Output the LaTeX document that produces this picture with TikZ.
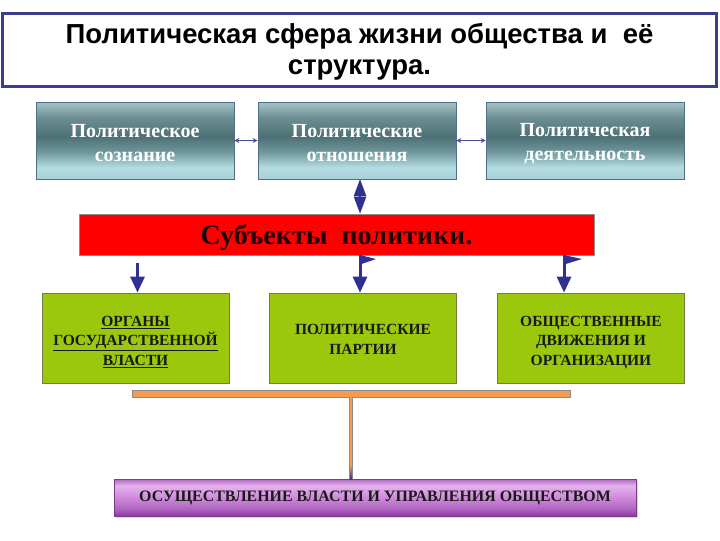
\documentclass[tikz,border=0pt]{standalone}
\usepackage{fontspec}
\setmainfont{Liberation Serif}
\newfontfamily\headfont{Liberation Sans}
\usetikzlibrary{arrows.meta,shadows}

\definecolor{framecol}{HTML}{3B3C8E}
\definecolor{tealedge}{HTML}{4F6F86}
\definecolor{tealA}{HTML}{A6C3C7}
\definecolor{tealB}{HTML}{6D8F93}
\definecolor{tealC}{HTML}{4D7075}
\definecolor{tealD}{HTML}{6F979C}
\definecolor{tealE}{HTML}{B5DCE3}
\definecolor{tealF}{HTML}{A8D0D7}
\definecolor{arrowblue}{HTML}{2E3192}
\definecolor{linkblue}{HTML}{4B4B9E}
\definecolor{subjred}{HTML}{FF0000}
\definecolor{subjtext}{HTML}{200000}
\definecolor{grassgreen}{HTML}{9BC80C}
\definecolor{grassedge}{HTML}{6F8046}
\definecolor{barorange}{HTML}{F79A50}
\definecolor{baredge}{HTML}{8C8C8C}
\definecolor{goaledge}{HTML}{7B3A8C}
\definecolor{violA}{HTML}{8A3A9C}
\definecolor{violB}{HTML}{B066C2}
\definecolor{violC}{HTML}{CF8ADB}
\definecolor{violD}{HTML}{E6B2EE}

\pgfdeclareverticalshading{tealbox}{100bp}{color(0bp)=(tealF); color(25bp)=(tealF);
  color(32.5bp)=(tealE); color(42.5bp)=(tealD); color(52.5bp)=(tealC);
  color(65bp)=(tealB); color(75bp)=(tealA); color(100bp)=(tealA)}
\pgfdeclareverticalshading{violetbox}{100bp}{color(0bp)=(violA); color(25bp)=(violA);
  color(35bp)=(violB); color(50bp)=(violC); color(66bp)=(violD);
  color(75bp)=(violB); color(100bp)=(violB)}

\newcommand{\pushdown}[1]{\rule{0pt}{#1}}

\begin{document}
\begin{tikzpicture}[scale=0.3515]
\tikzstyle{every node}+=[inner sep=0pt]
\tikzstyle{headbox}=[draw=framecol, line width=3pt, fill=white, minimum width=715pt, minimum height=73pt, align=center, font=\headfont\bfseries\fontsize{27.5}{31}\selectfont]
\tikzstyle{sphere}=[draw=tealedge, line width=0.8pt, shading=tealbox, minimum width=198pt, minimum height=77pt, align=center, text=white, font=\bfseries\fontsize{20}{24}\selectfont]
\tikzstyle{subjbar}=[draw=baredge, line width=0.6pt, fill=subjred, minimum width=515pt, minimum height=41pt, text depth=0pt, text=subjtext, font=\bfseries\fontsize{28}{32}\selectfont]
\tikzstyle{actor}=[draw=grassedge, line width=0.8pt, fill=grassgreen, minimum width=187pt, minimum height=90pt, align=center, text=black!90, font=\bfseries\fontsize{15.5}{19.5}\selectfont]
\tikzstyle{joinbar}=[draw=baredge, line width=0.6pt, fill=barorange, minimum width=438pt, minimum height=7pt]
\tikzstyle{goal}=[draw=goaledge, line width=0.8pt, shading=violetbox, minimum width=522pt, minimum height=37pt, text=black!90, font=\bfseries\fontsize{15.9}{19}\selectfont, drop shadow={shadow xshift=2pt, shadow yshift=-2pt, opacity=0.3}]
\tikzstyle{sidelink}=[draw=linkblue, line width=1.2pt, {Stealth[length=5pt,width=5pt]}-{Stealth[length=5pt,width=5pt]}]
\tikzstyle{twoway}=[draw=arrowblue, line width=2pt, {Triangle[length=17pt,width=12pt]}-{Triangle[length=17pt,width=12pt]}]
\tikzstyle{down}=[draw=arrowblue, line width=3pt, -{Triangle[length=16pt,width=14pt]}]
\useasboundingbox [fill=white] (0,0) rectangle (72,-54);
% title
\node [headbox] (head) at (35.95,-4.95) {\pushdown{24pt}Политическая сфера жизни общества и\ \ её\\структура.};
% upper row
\node [sphere] (consc) at (13.5,-14.05) {\pushdown{19pt}Политическое\\сознание};
\node [sphere] (rel) at (35.7,-14.05) {\pushdown{19pt}Политические\\отношения};
\node [sphere] (act) at (58.5,-14.05) {\pushdown{19pt}Политическая\\деятельность};
\draw [sidelink] (consc.east) -- (rel.west);
\draw [sidelink] (rel.east) -- (act.west);
% subjects
\node [subjbar] (subj) at (33.65,-23.45) {Субъекты\ \ политики.};
\coordinate (aR) at (36,-17.9);
\draw [twoway] (aR) -- (aR |- subj.north);
% lower row
\node [actor] (organs) at (13.55,-33.8) {\pushdown{18pt}\underline{ОРГАНЫ}\\\underline{ГОСУДАРСТВЕННОЙ}\\\underline{ВЛАСТИ}};
\node [actor] (party) at (36.3,-33.8) {\pushdown{13pt}ПОЛИТИЧЕСКИЕ\\ПАРТИИ};
\node [actor] (move) at (59.1,-33.8) {\pushdown{19pt}ОБЩЕСТВЕННЫЕ\\ДВИЖЕНИЯ И\\ОРГАНИЗАЦИИ};
\coordinate (aA) at (13.75,-26.3);
\coordinate (aB) at (36,-25.5);
\coordinate (aC) at (56.4,-25.5);
\draw [down] (aA) -- (aA |- organs.north);
\draw [down] (aB) -- (aB |- party.north);
\draw [down] (aC) -- (aC |- move.north);
\fill [arrowblue] (aB) -- ++(1.6,-0.4) -- ++(-1.6,-0.55) -- cycle;
\fill [arrowblue] (aC) -- ++(1.8,-0.4) -- ++(-1.8,-0.55) -- cycle;
% result
\node [joinbar] (bar) at (35.1,-39.35) {};
\node [goal] (power) at (37.5,-49.75) {ОСУЩЕСТВЛЕНИЕ ВЛАСТИ И УПРАВЛЕНИЯ ОБЩЕСТВОМ};
\draw [baredge, line width=3.6pt] (bar.south) -- (bar.south |- power.north);
\draw [barorange, line width=2pt] (bar.south) -- (bar.south |- power.north);
\shade [top color=barorange, bottom color=arrowblue] (35.0,-46.5) rectangle (35.2,-47.95);
\end{tikzpicture}
\end{document}
